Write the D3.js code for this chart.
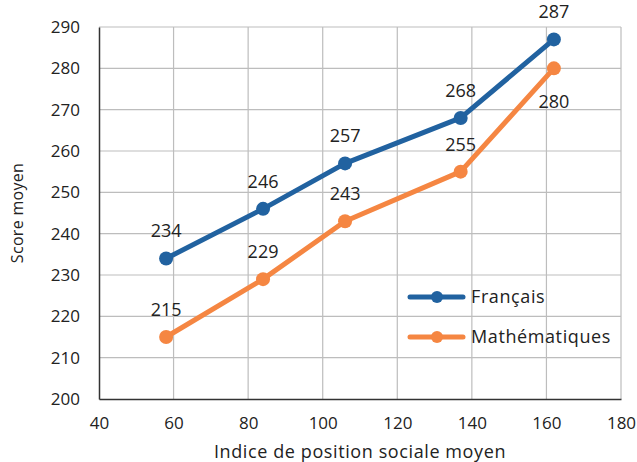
<!DOCTYPE html>
<html>
<head>
<meta charset="utf-8">
<script src="https://cdn.jsdelivr.net/npm/d3@7"></script>
<style>
body { margin: 0; background: #fff; }
svg text { font-family: "Open Sans", "Noto Sans", sans-serif; fill: #222; }
</style>
</head>
<body>
<svg id="chart" width="637" height="462"></svg>
<script>
// data
var positions = [58, 84, 106, 137, 162]
var francais = [234, 246, 257, 268, 287]
var maths = [215, 229, 243, 255, 280]
var seriesNames = ["Français", "Mathématiques"]
var seriesColors = ["#2162a0", "#f58642"]
var xTicks = [40, 60, 80, 100, 120, 140, 160, 180]
var yTicks = [200, 210, 220, 230, 240, 250, 260, 270, 280, 290]

var svg = d3.select("#chart")
var mLeft = 99, mRight = 621, mTop = 27, mBottom = 399

var x = d3.scaleLinear().domain([40, 180]).range([mLeft, mRight])
var y = d3.scaleLinear().domain([200, 290]).range([mBottom, mTop])

// grid
svg.append("g").selectAll("line").data(xTicks.slice(1)).enter().append("line")
  .attr("x1", d => x(d)).attr("x2", d => x(d))
  .attr("y1", mTop).attr("y2", mBottom)
  .attr("stroke", "#bdbdbd").attr("stroke-width", 1.2)
svg.append("g").selectAll("line").data(yTicks.slice(1)).enter().append("line")
  .attr("x1", mLeft).attr("x2", mRight)
  .attr("y1", d => y(d)).attr("y2", d => y(d))
  .attr("stroke", "#bdbdbd").attr("stroke-width", 1.2)

// axes
var xAxis = svg.append("g").attr("transform", "translate(0," + mBottom + ")")
  .call(d3.axisBottom(x).tickValues(xTicks).tickSize(0).tickPadding(18))
var yAxis = svg.append("g").attr("transform", "translate(" + mLeft + ",0)")
  .call(d3.axisLeft(y).tickValues(yTicks).tickSize(0).tickPadding(19))
xAxis.select(".domain").attr("stroke", "#333").attr("stroke-width", 1.5)
yAxis.select(".domain").attr("stroke", "#333").attr("stroke-width", 1.5)
xAxis.selectAll("text").attr("font-size", 17).attr("fill", "#222").attr("font-family", "Open Sans")
yAxis.selectAll("text").attr("font-size", 17).attr("fill", "#222").attr("font-family", "Open Sans")

svg.append("text").attr("x", x(110)).attr("y", 458)
  .attr("text-anchor", "middle").attr("font-size", 18).attr("letter-spacing", 0.6)
  .text("Indice de position sociale moyen")
svg.append("text").attr("transform", "translate(23," + y(245) + ") rotate(-90)")
  .attr("text-anchor", "middle").attr("font-size", 16).attr("letter-spacing", 0.3)
  .text("Score moyen")

var line = d3.line().x(d => x(d[0])).y(d => y(d[1]))
var series = [francais, maths]
series.forEach(function (vals, i) {
  var pts = positions.map((p, j) => [p, vals[j]])
  svg.append("path").attr("d", line(pts))
    .attr("fill", "none").attr("stroke", seriesColors[i])
    .attr("stroke-width", 5).attr("stroke-linejoin", "round")
  svg.append("g").selectAll("circle").data(pts).enter().append("circle")
    .attr("cx", d => x(d[0])).attr("cy", d => y(d[1])).attr("r", 7)
    .attr("fill", seriesColors[i])
  svg.append("g").selectAll("text").data(pts).enter().append("text")
    .attr("x", d => x(d[0]))
    .attr("y", (d, j) => (i == 1 && j == pts.length - 1) ? y(d[1]) + 40 : y(d[1]) - 21)
    .attr("text-anchor", "middle").attr("font-size", 18)
    .text(d => d[1])
})

// legend
var legend = svg.append("g")
seriesNames.forEach(function (name, i) {
  var ly = 297 + i * 40
  legend.append("line").attr("x1", 410).attr("x2", 463).attr("y1", ly).attr("y2", ly)
    .attr("stroke", seriesColors[i]).attr("stroke-width", 5).attr("stroke-linecap", "round")
  legend.append("circle").attr("cx", 437).attr("cy", ly).attr("r", 6).attr("fill", seriesColors[i])
  legend.append("text").attr("x", 471).attr("y", ly + 6).attr("font-size", 18)
    .attr("letter-spacing", 0.6).text(name)
})
</script>
</body>
</html>
